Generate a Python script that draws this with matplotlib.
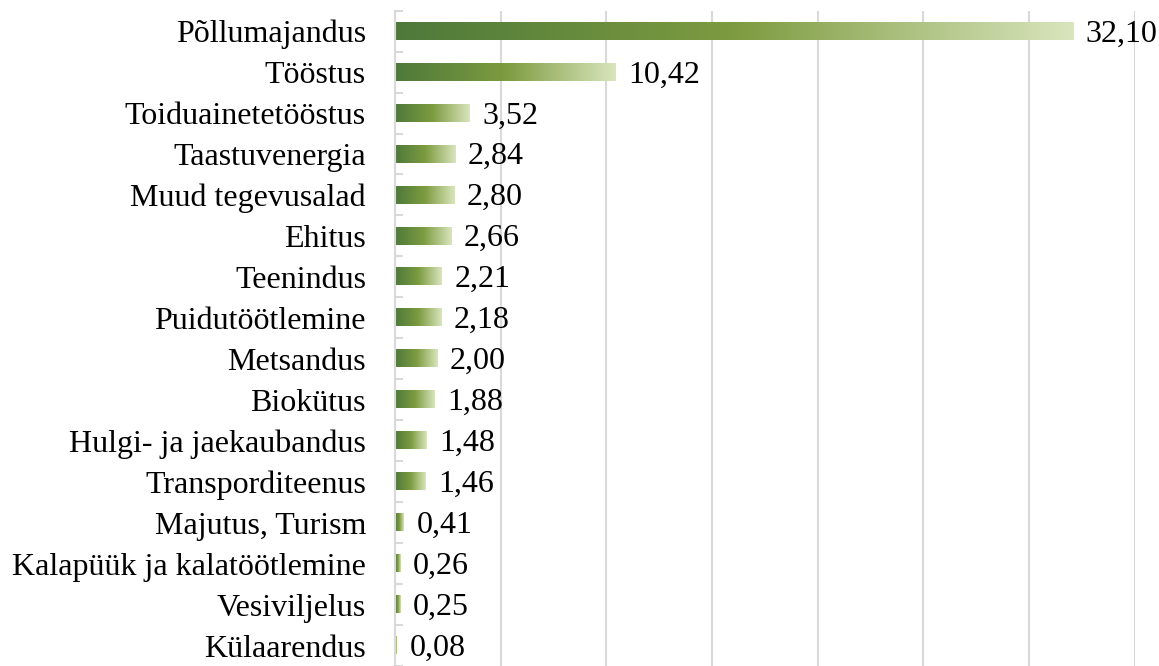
import numpy as np
import matplotlib
matplotlib.use('Agg')
import matplotlib.pyplot as plt
from matplotlib.colors import LinearSegmentedColormap

categories = ['Põllumajandus', 'Tööstus', 'Toiduainetetööstus', 'Taastuvenergia',
              'Muud tegevusalad', 'Ehitus', 'Teenindus', 'Puidutöötlemine',
              'Metsandus', 'Biokütus', 'Hulgi- ja jaekaubandus', 'Transporditeenus',
              'Majutus, Turism', 'Kalapüük ja kalatöötlemine', 'Vesiviljelus', 'Külaarendus']
values = [32.10, 10.42, 3.52, 2.84, 2.80, 2.66, 2.21, 2.18,
          2.00, 1.88, 1.48, 1.46, 0.41, 0.26, 0.25, 0.08]

plt.rcParams['font.family'] = ['Liberation Serif', 'DejaVu Serif']

cmap = LinearSegmentedColormap.from_list('g', [(0, '#4e793a'), (0.5, '#7d9b40'), (1, '#d9e5bd')])
grad = np.linspace(0, 1, 256).reshape(1, -1)

fig = plt.figure(figsize=(11.59, 6.66), dpi=100)
ax = fig.add_axes([0.341, 0.0, 0.638, 0.984])

n = len(categories)
y = np.arange(n)
h = 0.42
for i, v in enumerate(values):
    ax.imshow(grad, cmap=cmap, aspect='auto', extent=[0, v, i + h / 2, i - h / 2],
              interpolation='bilinear', zorder=2)
    ax.annotate(f'{v:.2f}'.replace('.', ','), (v, i), xytext=(9, -2),
                textcoords='offset points', va='center', ha='left',
                fontsize=23, zorder=3)

ax.set_xlim(0, 35)
ax.set_ylim(n - 0.5, -0.5)
ax.set_xticks(np.arange(0, 36, 5))
ax.xaxis.grid(True, color='#d9d9d9', linewidth=1.5, zorder=0)
ax.tick_params(axis='x', length=0, labelbottom=False)
ax.set_yticks(y)
ax.set_yticklabels(categories, fontsize=23)
ax.tick_params(axis='y', length=0, pad=21)
ax.set_yticks(np.arange(-0.5, n, 1), minor=True)
ax.tick_params(axis='y', which='minor', length=6, direction='in', color='#d9d9d9', width=1.5)
for s in ['top', 'right', 'bottom']:
    ax.spines[s].set_visible(False)
ax.spines['left'].set_color('#d9d9d9')
ax.spines['left'].set_linewidth(1.5)
ax.set_axisbelow(True)

fig.savefig('out.png', dpi=100)
